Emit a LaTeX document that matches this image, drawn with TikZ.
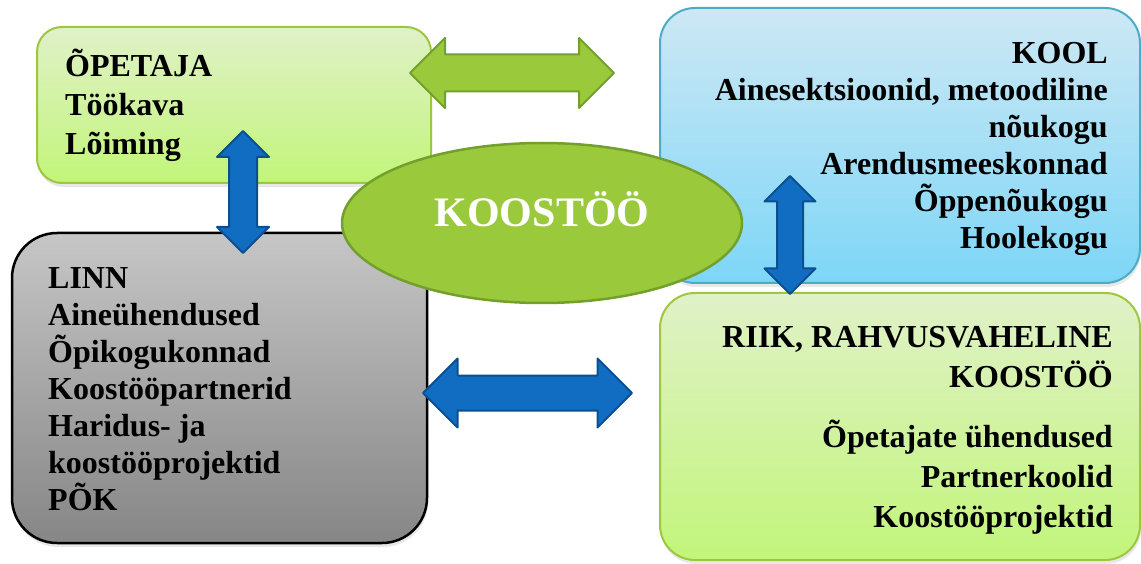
\documentclass[tikz,border=0pt]{standalone}
\usepackage{fontspec}
\setmainfont{Liberation Serif}
\usetikzlibrary{shapes.geometric,shadows}

\definecolor{greentop}{HTML}{E0F1C8}
\definecolor{greenbot}{HTML}{C2F57A}
\definecolor{greenline}{HTML}{9DC83E}
\definecolor{bluetop}{HTML}{CEE8F4}
\definecolor{bluebot}{HTML}{7DD6F7}
\definecolor{blueline}{HTML}{4BACC6}
\definecolor{graytop}{HTML}{C6C6C6}
\definecolor{graybot}{HTML}{868686}
\definecolor{leaf}{HTML}{9ACA3C}
\definecolor{leafdark}{HTML}{73A02C}
\definecolor{arrowblue}{HTML}{106DC2}
\definecolor{arrowbluedark}{HTML}{0C4F91}

% double block arrow: style, centre, angle, half length, head, half shaft
\newcommand{\dblarrow}[6]{%
  \draw[#1,shift={#2},rotate=#3] (-#4,0) -- ({-#4+#5},#5) -- ({-#4+#5},#6)
    -- ({#4-#5},#6) -- ({#4-#5},#5) -- (#4,0) -- ({#4-#5},-#5) -- ({#4-#5},-#6)
    -- ({-#4+#5},-#6) -- ({-#4+#5},-#5) -- cycle;}

\begin{document}
\begin{tikzpicture}[x=1pt,y=1pt,
  box/.style={rounded corners=#1,line width=2pt,inner sep=0pt,
    drop shadow={opacity=0.18,shadow xshift=1pt,shadow yshift=-4pt}},
  green box/.style={box=#1,draw=greenline,top color=greentop,bottom color=greenbot},
  blue box/.style={box=35pt,draw=blueline,top color=bluetop,bottom color=bluebot},
  gray box/.style={box=45pt,draw=black,line width=2.5pt,top color=graytop,bottom color=graybot},
  main text/.style={inner sep=0pt,font=\bfseries\fontsize{32}{37}\selectfont},
  block arrow/.style={line width=2pt,line join=round},
  green arrow/.style={block arrow,fill=leaf,draw=leafdark},
  blue arrow/.style={block arrow,fill=arrowblue,draw=arrowbluedark}]
  \useasboundingbox (0,0) rectangle (1141,563);

  % boxes
  \node[green box=25pt,minimum width=394pt,minimum height=156pt] (opetaja) at (234,458) {};
  \node[blue box,minimum width=480pt,minimum height=275pt]        (kool)    at (900,417.5) {};
  \node[gray box,minimum width=415pt,minimum height=310pt]        (linn)    at (219.5,175) {};
  \node[green box=35pt,minimum width=480pt,minimum height=267pt] (riik)    at (900,136.5) {};

  % centre
  \node[ellipse,fill=leaf,draw=leafdark,line width=2.5pt,minimum width=400pt,
    minimum height=160pt,text=white,text depth=27pt,
    font=\bfseries\fontsize{42}{48}\selectfont] (koostoo) at (542,340) {KOOSTÖÖ};

  % arrows
  \dblarrow{green arrow}{(512,490)}{0}{102}{35}{18.5}
  \dblarrow{blue arrow}{(243,371)}{90}{61}{26}{14}
  \dblarrow{blue arrow}{(790,328)}{90}{59}{25.5}{13}
  \dblarrow{blue arrow}{(527.5,170)}{0}{104.5}{34.5}{17.5}

  % texts
  \node[main text,font=\bfseries\fontsize{32}{39}\selectfont,anchor=base west,align=left]
    (opetajatext) at (65,408) {ÕPETAJA\\Töökava\\Lõiming};
  \node[main text,anchor=base east,align=right] (kooltext) at (1108,314)
    {KOOL\\Ainesektsioonid, metoodiline\\nõukogu\\Arendusmeeskonnad\\Õppenõukogu\\Hoolekogu};
  \node[main text,anchor=base west,align=left] (linntext) at (48,53)
    {LINN\\Aineühendused\\Õpikogukonnad\\Koostööpartnerid\\Haridus- ja\\koostööprojektid\\PÕK};
  \node[main text,font=\bfseries\fontsize{32}{40}\selectfont,anchor=base east,align=right]
    (riiktext) at (1113,36)
    {RIIK, RAHVUSVAHELINE\\KOOSTÖÖ\\[20pt]Õpetajate ühendused\\Partnerkoolid\\Koostööprojektid};
\end{tikzpicture}
\end{document}
